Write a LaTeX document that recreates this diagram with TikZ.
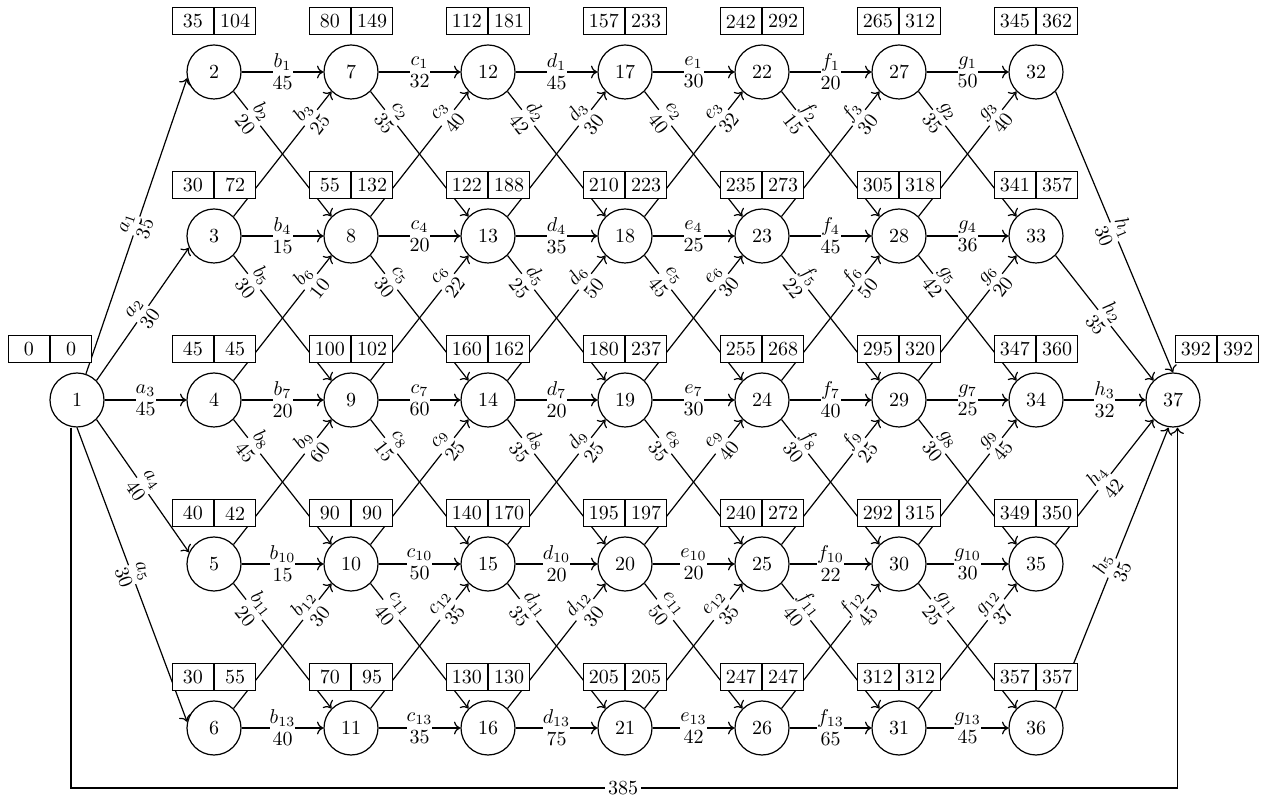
\documentclass[tikz,border=0pt]{standalone}
\usepackage{tikz}
\usetikzlibrary{arrows.meta}

\tikzset{
  vertex/.style={circle, draw, minimum size=27pt, inner sep=0pt},
  cell/.style={draw, fill=white, minimum width=20.5pt, minimum height=13.5pt, inner sep=0pt},
  wlabel/.style={fill=white, inner sep=0pt, align=center, sloped},
}

\begin{document}
\begin{tikzpicture}[x=0.5pt, y=-0.5pt, semithick, >={To[length=3.2pt, width=6.4pt]}]
    \useasboundingbox (0,0) rectangle (1265,796);

    % Source and sink
    \node[vertex] (n1) at (77,400) {1};
    \node[vertex] (n37) at (1173,400) {37};

    % The grid of events, five per column
    \foreach \c in {1,...,7}{
        \foreach \r in {1,...,5}{
            \pgfmathtruncatemacro\k{5*\c+\r-4}
            \node[vertex] (n\k) at ({214+137*(\c-1)},{72+164*(\r-1)}) {\k};
        }
    }

    % Arcs leaving the source
    \draw[->] (n1) -- node[wlabel] {$a_1$\\[-1pt]35} (n2.193);
    \draw[->] (n1.north east) -- node[wlabel] {$a_2$\\[-1pt]30} (n3.205);
    \draw[->] (n1) -- node[wlabel] {$a_3$\\[-1pt]45} (n4);
    \draw[->] (n1.south east) -- node[wlabel] {$a_4$\\[-1pt]40} (n5.155);
    \draw[->] (n1.south) -- node[wlabel] {$a_5$\\[-1pt]30} (n6.167);

    % Straight arcs
    \foreach \s/\t/\lab/\w in {2/7/b_1/45, 3/8/b_4/15, 4/9/b_7/20, 5/10/b_{10}/15, 6/11/b_{13}/40,
        7/12/c_1/32, 8/13/c_4/20, 9/14/c_7/60, 10/15/c_{10}/50, 11/16/c_{13}/35,
        12/17/d_1/45, 13/18/d_4/35, 14/19/d_7/20, 15/20/d_{10}/20, 16/21/d_{13}/75,
        17/22/e_1/30, 18/23/e_4/25, 19/24/e_7/30, 20/25/e_{10}/20, 21/26/e_{13}/42,
        22/27/f_1/20, 23/28/f_4/45, 24/29/f_7/40, 25/30/f_{10}/22, 26/31/f_{13}/65,
        27/32/g_1/50, 28/33/g_4/36, 29/34/g_7/25, 30/35/g_{10}/30, 31/36/g_{13}/45}{
        \draw[->] (n\s) -- node[wlabel] {$\lab$\\[-1pt]\w} (n\t);
    }

    % Arcs going down one row
    \foreach \s/\t/\lab/\w in {2/8/b_2/20, 3/9/b_5/30, 4/10/b_8/45, 5/11/b_{11}/20,
        7/13/c_2/35, 8/14/c_5/30, 9/15/c_8/15, 10/16/c_{11}/40,
        12/18/d_2/42, 13/19/d_5/25, 14/20/d_8/35, 15/21/d_{11}/35,
        17/23/e_2/40, 18/24/e_5/45, 19/25/e_8/35, 20/26/e_{11}/50,
        22/28/f_2/15, 23/29/f_5/22, 24/30/f_8/30, 25/31/f_{11}/40,
        27/33/g_2/35, 28/34/g_5/42, 29/35/g_8/30, 30/36/g_{11}/25}{
        \draw[->] (n\s.south east) -- node[wlabel, pos=0.21] {$\lab$\\[-1pt]\w} (n\t.north west);
    }

    % Arcs going up one row
    \foreach \s/\t/\lab/\w in {3/7/b_3/25, 4/8/b_6/10, 5/9/b_9/60, 6/10/b_{12}/30,
        8/12/c_3/40, 9/13/c_6/22, 10/14/c_9/25, 11/15/c_{12}/35,
        13/17/d_3/30, 14/18/d_6/50, 15/19/d_9/25, 16/20/d_{12}/30,
        18/22/e_3/32, 19/23/e_6/30, 20/24/e_9/40, 21/25/e_{12}/35,
        23/27/f_3/30, 24/28/f_6/50, 25/29/f_9/25, 26/30/f_{12}/45,
        28/32/g_3/40, 29/33/g_6/20, 30/34/g_9/45, 31/35/g_{12}/37}{
        \draw[->] (n\s.north east) -- node[wlabel, pos=0.79] {$\lab$\\[-1pt]\w} (n\t.south west);
    }

    % Arcs into the sink
    \draw[->] (n32.south east) -- node[wlabel] {$h_1$\\[-1pt]30} (n37.north);
    \draw[->] (n33.south east) -- node[wlabel] {$h_2$\\[-1pt]35} (n37.north west);
    \draw[->] (n34) -- node[wlabel] {$h_3$\\[-1pt]32} (n37);
    \draw[->] (n35.north east) -- node[wlabel] {$h_4$\\[-1pt]42} (n37.south west);
    \draw[->] (n36.north east) -- node[wlabel] {$h_5$\\[-1pt]35} ([xshift=-2.25pt]n37.south);

    % Direct arc 1 -> 37 along the bottom
    \coordinate (base) at (623,788);
    \draw[->] ([xshift=-3pt]n1.south) |- (base) -| ([xshift=2.25pt]n37.south);
    \node[fill=white, inner xsep=1.5pt, inner ysep=0pt] (total) at (base) {385};

    % Earliest / latest times
    \foreach \k/\e/\l in {2/35/104, 3/30/72, 4/45/45, 5/40/42, 6/30/55,
        7/80/149, 8/55/132, 9/100/102, 10/90/90, 11/70/95,
        12/112/181, 13/122/188, 14/160/162, 15/140/170, 16/130/130,
        17/157/233, 18/210/223, 19/180/237, 20/195/197, 21/205/205,
        22/242/292, 23/235/273, 24/255/268, 25/240/272, 26/247/247,
        27/265/312, 28/305/318, 29/295/320, 30/292/315, 31/312/312,
        32/345/362, 33/341/357, 34/347/360, 35/349/350, 36/357/357}{
        \node[cell, anchor=south east] (t\k e) at ([yshift=4.5pt]n\k.north) {\e};
        \node[cell, anchor=south west] (t\k l) at ([yshift=4.5pt]n\k.north) {\l};
    }
    \node[cell, anchor=south east] (t1e) at ([xshift=-13.5pt, yshift=4.5pt]n1.north) {0};
    \node[cell, anchor=south west] (t1l) at ([xshift=-13.5pt, yshift=4.5pt]n1.north) {0};
    \node[cell, anchor=south east] (t37e) at ([xshift=22pt, yshift=4.5pt]n37.north) {392};
    \node[cell, anchor=south west] (t37l) at ([xshift=22pt, yshift=4.5pt]n37.north) {392};
\end{tikzpicture}
\end{document}
